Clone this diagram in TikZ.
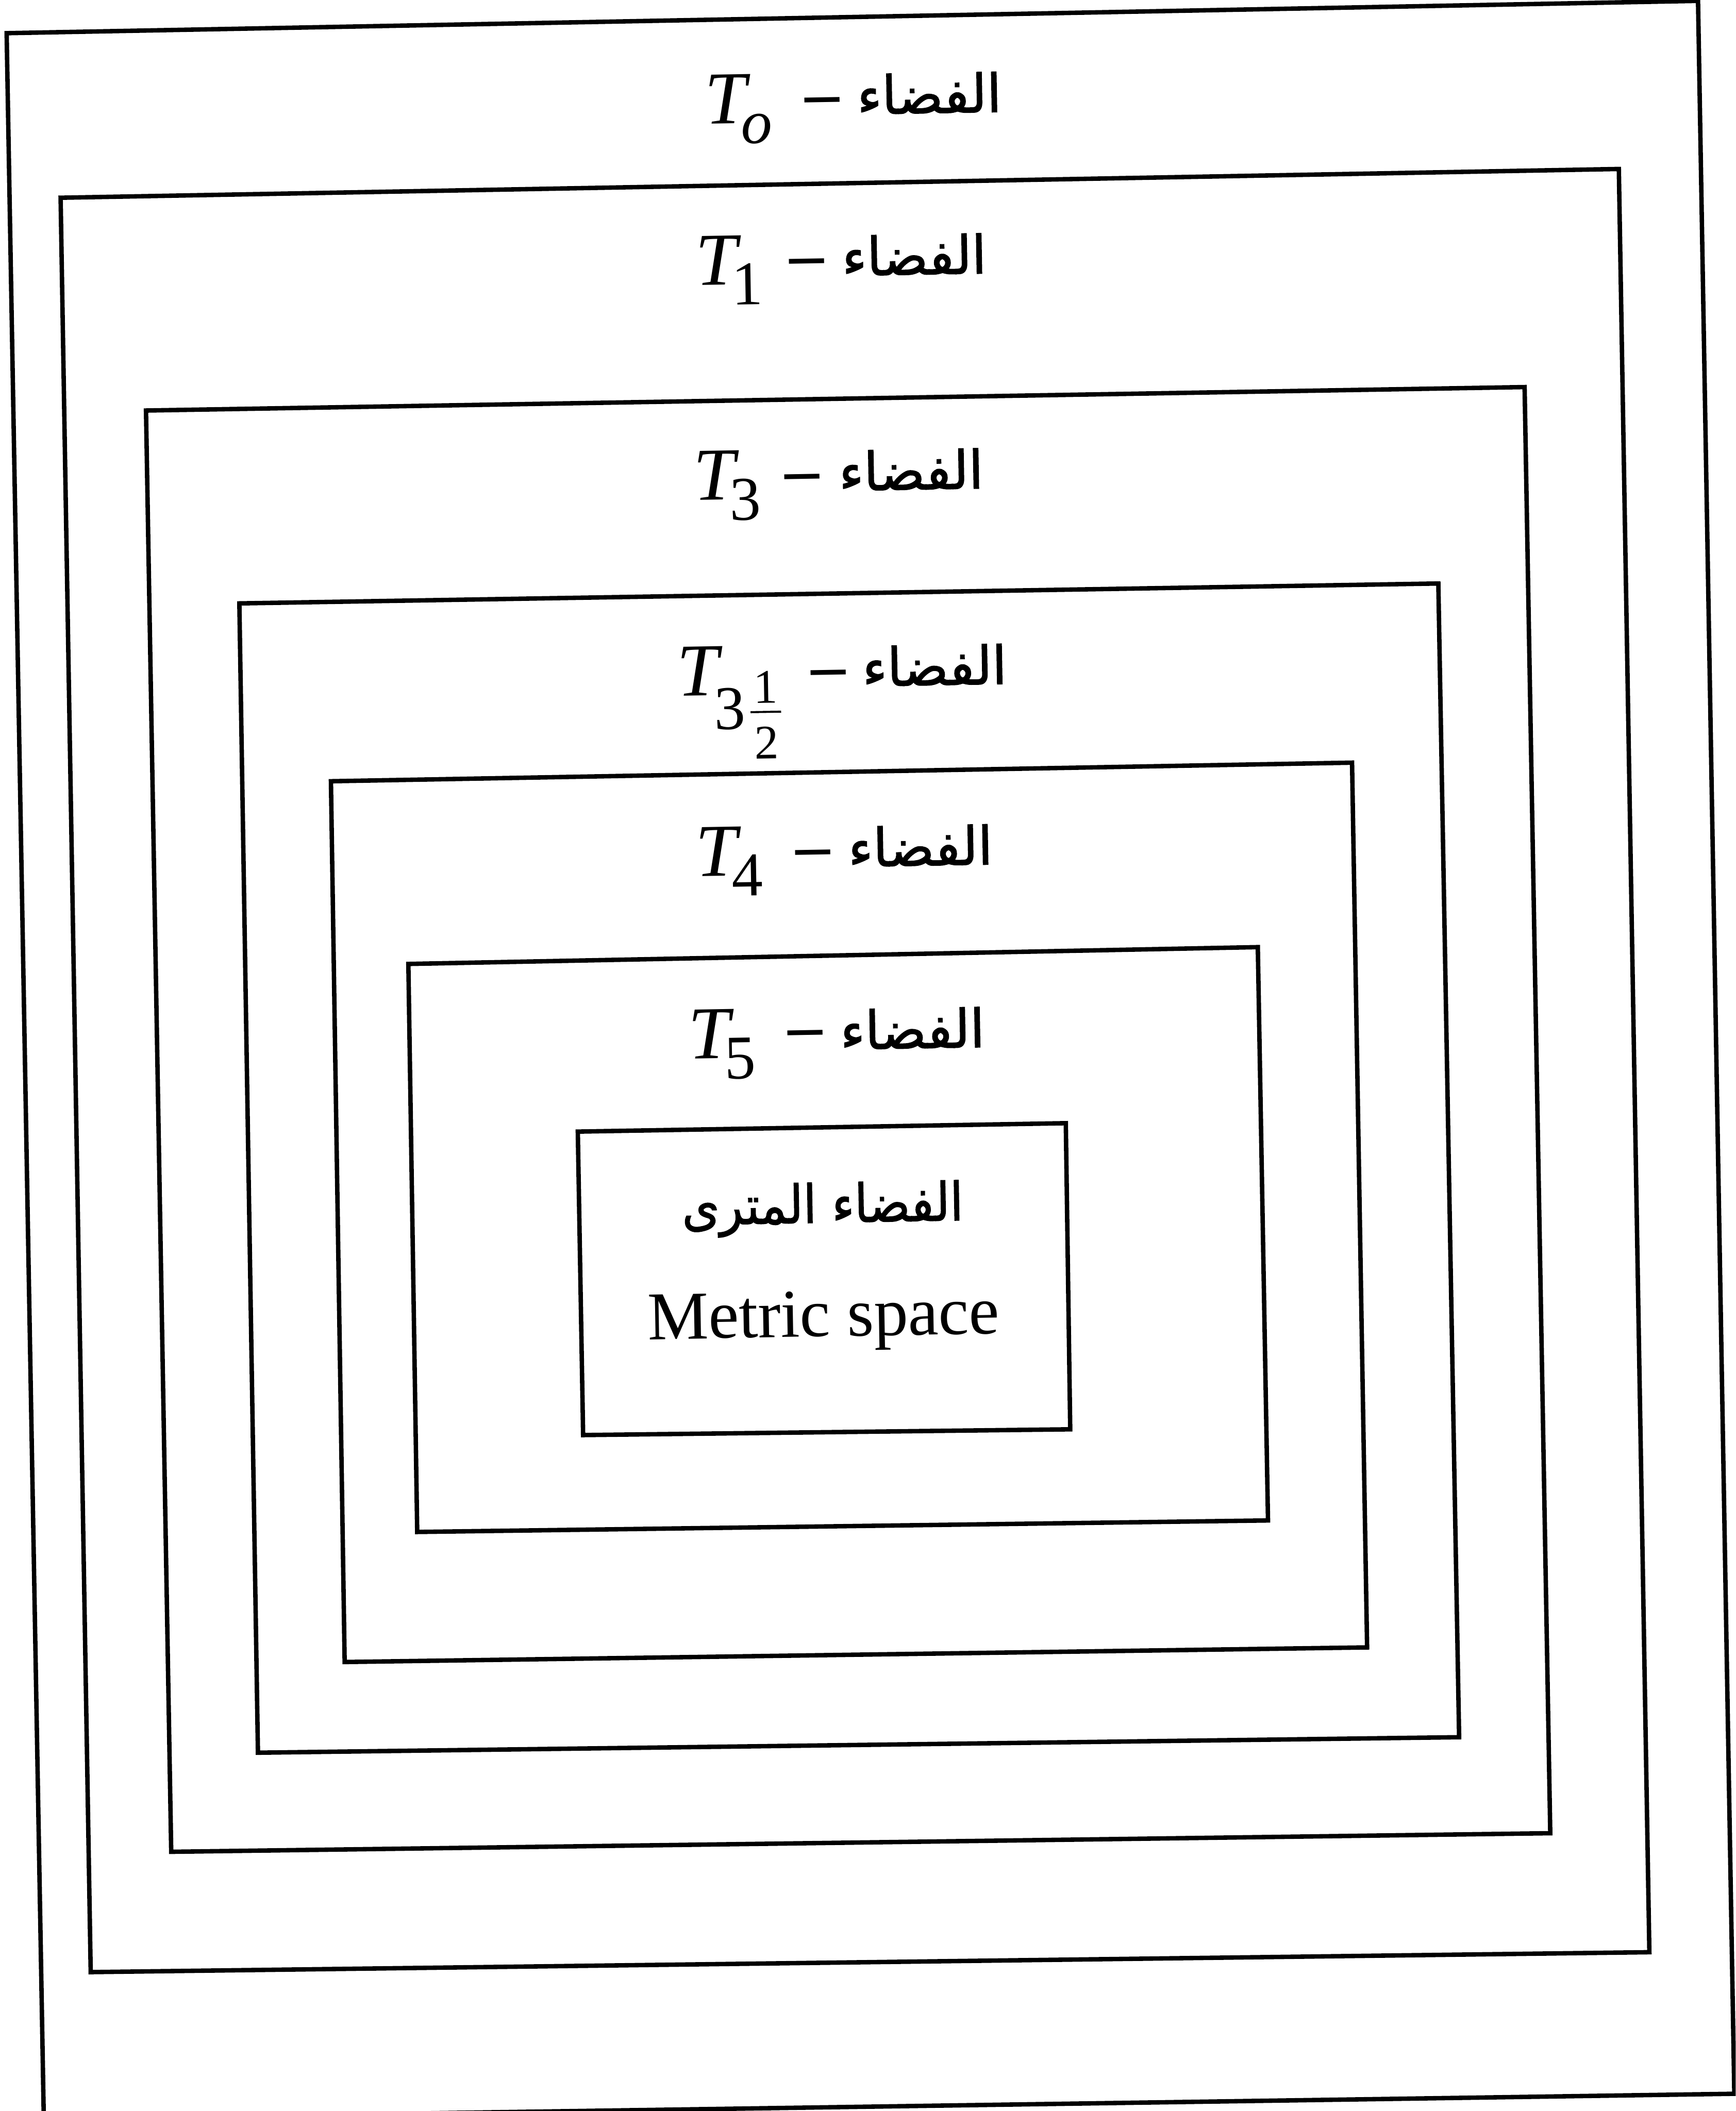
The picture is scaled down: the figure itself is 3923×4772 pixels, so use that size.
\documentclass[tikz,border=0pt]{standalone}
\usepackage{amsmath}
\usepackage{graphicx}
\usepackage{fontspec}
\setmainfont{Liberation Serif}
\newfontfamily\arabicfont[Script=Arabic,FakeBold=1.5]{DejaVu Sans}
\TeXXeTstate=1
\newcommand\Tlab[1]{\textit{T}\kern-0.23cm\raisebox{-0.46cm}{\fontsize{40}{40}\selectfont #1}}
\newcommand\Thalf{\textit{T}\kern-0.21cm\raisebox{-0.77cm}{\fontsize{40}{40}\selectfont 3}\kern0.11cm{\fontsize{31}{31}\selectfont\rlap{\raisebox{-0.20cm}{\makebox[0.69cm]{1}}}\rlap{\raisebox{-0.42cm}{\rule{0.69cm}{0.045cm}}}\raisebox{-1.45cm}{\makebox[0.69cm]{2}}}}
\begin{document}
\begin{tikzpicture}[x=0.01cm,y=-0.01cm,
  frame/.style={draw=black,line width=0.1cm,line join=miter},
  tl/.style={inner sep=0,anchor=base west,rotate=1,font=\fontsize{48}{48}\selectfont},
  dsh/.style={inner sep=0,anchor=base,rotate=1,font=\fontsize{44}{44}\selectfont\bfseries},
  ar/.style={inner sep=0,anchor=base east,rotate=1,font=\arabicfont\fontsize{34}{34}\selectfont},
  arc/.style={inner sep=0,anchor=base,rotate=1,font=\arabicfont\fontsize{34}{34}\selectfont},
  en/.style={inner sep=0,anchor=base,rotate=1,font=\fontsize{44}{44}\selectfont}]
\useasboundingbox (0,0) rectangle (3923,4772);
\clip (0,0) rectangle (3923,4772);
% nested frames (scan is slightly tilted)
\draw[frame] (15,75) -- (3838,2) -- (3920,4733) -- (99,4790) -- cycle;
\draw[frame] (137,447) -- (3659,382) -- (3728,4413) -- (205,4458) -- cycle;
\draw[frame] (330,928) -- (3446,875) -- (3504,4144) -- (387,4186) -- cycle;
\draw[frame] (541,1364) -- (3251,1319) -- (3298,3927) -- (583,3962) -- cycle;
\draw[frame] (748,1766) -- (3056,1724) -- (3090,3724) -- (779,3757) -- cycle;
\draw[frame] (923,2179) -- (2843,2141) -- (2866,3437) -- (943,3463) -- cycle;
\draw[frame] (1306,2558) -- (2409,2539) -- (2419,3231) -- (1318,3244) -- cycle;
% labels
\node[tl] (t0) at (1594,280) {\Tlab{\textit{o}}};
\node[dsh] (d0) at (1859,262) {–};
\node[ar] (a0) at (2265,253) {\beginR الفضاء\endR};
\node[tl] (t1) at (1573,645) {\Tlab{1}};
\node[dsh] (d1) at (1824,627) {–};
\node[ar] (a1) at (2231,618) {\beginR الفضاء\endR};
\node[tl] (t3) at (1568,1131) {\Tlab{3}};
\node[dsh] (d3) at (1814,1114) {–};
\node[ar] (a3) at (2224,1104) {\beginR الفضاء\endR};
\node[tl] (th) at (1531,1573) {\Thalf};
\node[dsh] (dh) at (1873,1556) {–};
\node[ar] (ah) at (2277,1546) {\beginR الفضاء\endR};
\node[tl] (t4) at (1573,1981) {\Tlab{4}};
\node[dsh] (d4) at (1838,1963) {–};
\node[ar] (a4) at (2245,1954) {\beginR الفضاء\endR};
\node[tl] (t5) at (1556,2394) {\Tlab{5}};
\node[dsh] (d5) at (1821,2371) {–};
\node[ar] (a5) at (2227,2367) {\beginR الفضاء\endR};
\node[arc] (mAr) at (1860,2764) {\scalebox{0.91}[1]{\beginR الفضاء المترى\endR}};
\node[en] (mEn) at (1862,3021) {Metric space};
\end{tikzpicture}
\end{document}
